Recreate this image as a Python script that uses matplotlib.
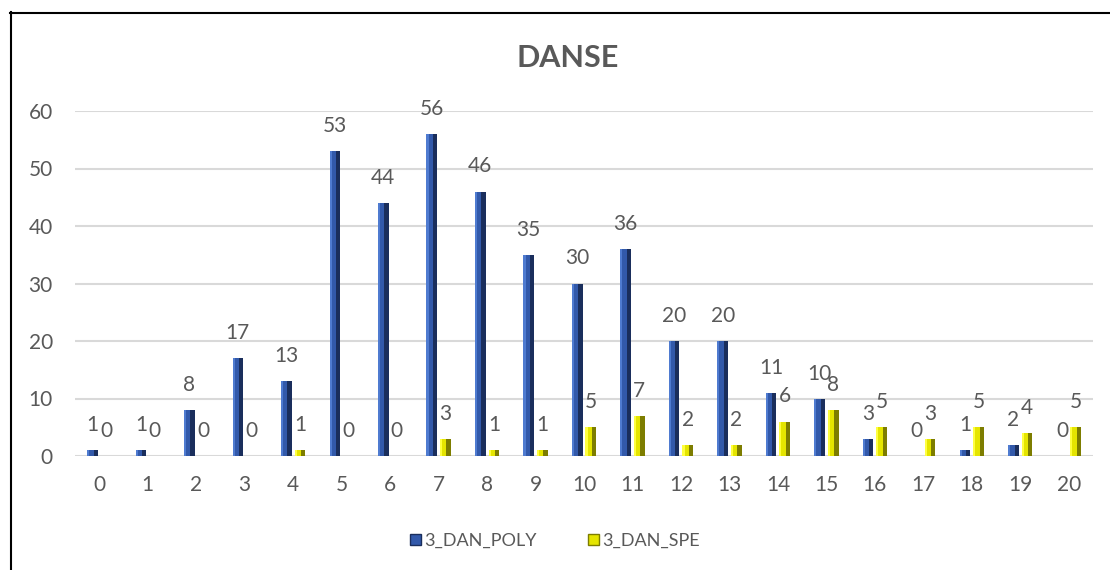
import matplotlib
matplotlib.use("Agg")
import matplotlib.pyplot as plt
from matplotlib.lines import Line2D
from matplotlib.patches import Patch
import numpy as np

categories = [str(i) for i in range(21)]
poly = [1, 1, 8, 17, 13, 53, 44, 56, 46, 35, 30, 36, 20, 20, 11, 10, 3, 0, 1, 2, 0]
spe = [0, 0, 0, 0, 1, 0, 0, 3, 1, 1, 5, 7, 2, 2, 6, 8, 5, 3, 5, 4, 5]
series_names = ["3_DAN_POLY", "3_DAN_SPE"]
yticks = [0, 10, 20, 30, 40, 50, 60]

plt.rcParams['font.family'] = ['Lato', 'DejaVu Sans']
txt = '#595959'

fig = plt.figure(figsize=(11.1, 5.7), dpi=100)
ax = fig.add_axes([75/1110, 1-456/570, (1093-75)/1110, (456-111)/570])

x = np.arange(len(categories))
w = 0.22
off = 0.14

styles = [
    dict(base='#3259AA', light='#4F7BD0', dark='#1A2E5C'),
    dict(base='#E5E500', light='#FFFF40', dark='#7D7D00'),
]
for vals, sgn, st in [(poly, -1, styles[0]), (spe, 1, styles[1])]:
    xc = x + sgn * off
    ax.bar(xc, vals, width=w, color=st['base'], edgecolor='none', zorder=3)
    # dark right facet
    ax.bar(xc + w * 0.3, vals, width=w * 0.4, color=st['dark'], edgecolor='none', zorder=4)
    # light left facet
    ax.bar(xc - w * 0.4, vals, width=w * 0.2, color=st['light'], edgecolor='none', zorder=4)
    for xi, v in zip(xc, vals):
        ax.annotate(str(v), (xi, v), xytext=(0, 18), textcoords='offset points',
                    ha='center', va='center', fontsize=15, color=txt, zorder=5,
                    annotation_clip=False)

ax.set_xlim(-0.5, 20.5)
ax.set_ylim(0, 60)
ax.set_yticks(yticks)
ax.set_xticks(x)
ax.set_xticklabels(categories)
ax.yaxis.grid(True, color='#D9D9D9', linewidth=1.5, zorder=0)
ax.set_axisbelow(True)
for s in ax.spines.values():
    s.set_visible(False)
ax.tick_params(axis='both', length=0, labelsize=15, colors=txt)
ax.tick_params(axis='x', pad=14)
ax.tick_params(axis='y', pad=16)

fig.text(568/1110, 1-58/570, "DANSE", ha='center', va='center', fontsize=22,
         fontweight='bold', color=txt)

handles = [Patch(facecolor=styles[0]['base'], edgecolor=styles[0]['dark']),
           Patch(facecolor=styles[1]['base'], edgecolor=styles[1]['dark'])]
leg = fig.legend(handles, series_names, loc='center', bbox_to_anchor=(0.5, 1-541/570),
                 ncol=2, frameon=False, fontsize=13, handlelength=0.6, handleheight=0.6,
                 handletextpad=0.2, columnspacing=2.8, labelcolor=txt)

fig.add_artist(Line2D([10/1110, 1.0], [1-12.5/570, 1-12.5/570], transform=fig.transFigure,
                      color='black', linewidth=1.5))
fig.add_artist(Line2D([11/1110, 11/1110], [1-12/570, 0.0], transform=fig.transFigure,
                      color='black', linewidth=1.5))

fig.savefig("out.png", dpi=100)
